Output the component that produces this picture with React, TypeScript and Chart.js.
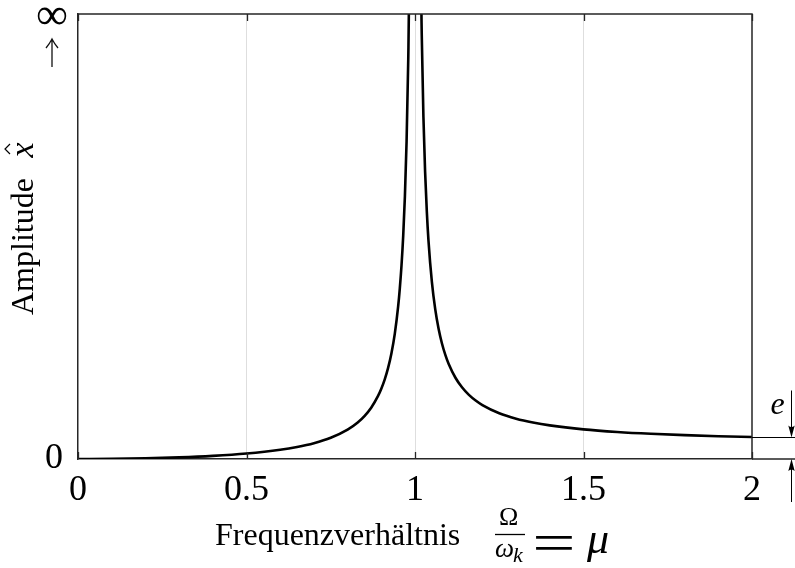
import React, { useEffect, useRef } from 'react';
import { Chart, registerables } from 'chart.js';

Chart.register(...registerables);

// Frequency ratio mu = Omega / omega_k
const MU = [
  0, 0.1, 0.2, 0.3, 0.4, 0.5, 0.6, 0.65, 0.7, 0.75, 0.8, 0.83, 0.85, 0.87, 0.89,
  0.9, 0.91, 0.92, 0.93, 0.94, 0.95, 0.955, 0.96, 0.965, 0.97, 0.975, 0.98, 0.985, 0.99,
  1.01, 1.015, 1.02, 1.025, 1.03, 1.035, 1.04, 1.05, 1.06, 1.07, 1.08, 1.09, 1.1, 1.12,
  1.14, 1.16, 1.18, 1.2, 1.25, 1.3, 1.35, 1.4, 1.5, 1.6, 1.7, 1.8, 1.9, 2.0,
];
// Amplitude x-hat in units of e
const AMPLITUDE = [
  0, 0.0101, 0.0417, 0.0989, 0.1905, 0.3333, 0.5625, 0.7316, 0.9608, 1.2857, 1.7778,
  2.2144, 2.6036, 3.1135, 3.81, 4.2632, 4.8173, 5.5104, 6.4019, 7.5911, 9.2564, 10.367,
  11.755, 13.54, 15.92, 19.253, 24.253, 32.585, 49.25,
  50.75, 34.085, 25.752, 20.753, 17.42, 15.04, 13.255, 10.756, 9.0906, 7.9013, 7.0096,
  6.3164, 5.7619, 4.9308, 4.3378, 3.8935, 3.5484, 3.2727, 2.7778, 2.4493, 2.2158,
  2.0417, 1.8, 1.641, 1.5291, 1.4464, 1.3831, 1.3333,
];
const X_TICKS = [0, 0.5, 1, 1.5, 2];
const X_MIN = 0;
const X_MAX = 2;
const Y_MIN = 0;
const Y_MAX = 27;
const Y_TICK_LABEL = '0';
const INFINITY_LABEL = '∞';
const E_LABEL = 'e';
const X_TITLE = 'Frequenzverhältnis';
const Y_TITLE = 'Amplitude';
const Y_TITLE_VAR = 'x';

const SERIF = '"Liberation Serif", "Times New Roman", serif';
const AXIS = '#262626';
const GRID = '#dedede';

function textCentered(ctx: CanvasRenderingContext2D, text: string, font: string, cx: number, cy: number, sx = 1) {
  ctx.font = font;
  ctx.textAlign = 'left';
  ctx.textBaseline = 'alphabetic';
  const m = ctx.measureText(text);
  const x = -(m.actualBoundingBoxRight - m.actualBoundingBoxLeft) / 2;
  const y = (m.actualBoundingBoxAscent - m.actualBoundingBoxDescent) / 2;
  ctx.save();
  ctx.translate(cx, cy);
  ctx.scale(sx, 1);
  ctx.fillText(text, x, y);
  ctx.restore();
}

function fitSize(ctx: CanvasRenderingContext2D, text: string, style: string, family: string, targetW: number) {
  ctx.font = `${style} 100px ${family}`;
  const m = ctx.measureText(text);
  const w = m.actualBoundingBoxLeft + m.actualBoundingBoxRight;
  return (100 * targetW) / w;
}

function arrowHead(ctx: CanvasRenderingContext2D, x: number, tipY: number, dir: number) {
  const len = 12;
  const hw = 3.2;
  ctx.beginPath();
  ctx.moveTo(x, tipY);
  ctx.lineTo(x - hw, tipY - dir * len);
  ctx.quadraticCurveTo(x, tipY - dir * (len - 3), x + hw, tipY - dir * len);
  ctx.closePath();
  ctx.fill();
}

const annotations = {
  id: 'annotations',
  afterDraw(chart: any) {
    const ctx: CanvasRenderingContext2D = chart.ctx;
    const { left, right, top, bottom } = chart.chartArea;
    const xs = chart.scales.x;
    const ys = chart.scales.y;
    const W = chart.width;
    ctx.save();

    // box (top/right) + bottom extension
    ctx.strokeStyle = AXIS;
    ctx.lineWidth = 1.5;
    ctx.beginPath();
    ctx.moveTo(left, top);
    ctx.lineTo(right, top);
    ctx.lineTo(right, bottom);
    ctx.moveTo(right, bottom);
    ctx.lineTo(W, bottom);
    ctx.stroke();

    // inner ticks on bottom and top
    ctx.lineWidth = 1.3;
    ctx.beginPath();
    X_TICKS.forEach((v) => {
      const px = Math.round(xs.getPixelForValue(v)) + 0.5;
      ctx.moveTo(px, bottom);
      ctx.lineTo(px, bottom - 7);
      ctx.moveTo(px, top);
      ctx.lineTo(px, top + 7);
    });
    ctx.stroke();

    // e marker on the right
    const eVal = AMPLITUDE[AMPLITUDE.length - 1];
    const yE = Math.round(ys.getPixelForValue(eVal)) + 0.5;
    ctx.strokeStyle = '#000';
    ctx.fillStyle = '#000';
    ctx.lineWidth = 1;
    ctx.beginPath();
    ctx.moveTo(right, yE);
    ctx.lineTo(W, yE);
    ctx.stroke();
    const xa = right + 39.5;
    ctx.beginPath();
    ctx.moveTo(xa, yE - 47);
    ctx.lineTo(xa, yE - 8);
    ctx.moveTo(xa, bottom + 8);
    ctx.lineTo(xa, bottom + 43);
    ctx.stroke();
    arrowHead(ctx, xa, yE, 1);
    arrowHead(ctx, xa, bottom, -1);
    textCentered(ctx, E_LABEL, `italic 32px ${SERIF}`, right + 25.5, yE - 31.5);

    // infinity + up arrow on y axis
    const infSize = fitSize(ctx, INFINITY_LABEL, '', SERIF, 29);
    textCentered(ctx, INFINITY_LABEL, `${infSize}px ${SERIF}`, left - 26, top + 2);
    const ax = left - 26;
    ctx.strokeStyle = '#111';
    ctx.lineWidth = 1.3;
    ctx.beginPath();
    ctx.moveTo(ax, top + 53);
    ctx.lineTo(ax, top + 25);
    ctx.moveTo(ax - 6, top + 34);
    ctx.quadraticCurveTo(ax - 2, top + 29, ax, top + 25);
    ctx.quadraticCurveTo(ax + 2, top + 29, ax + 6, top + 34);
    ctx.stroke();

    // y title (rotated)
    const cy = 226;
    ctx.save();
    ctx.translate(33, cy);
    ctx.rotate(-Math.PI / 2);
    ctx.fillStyle = '#000';
    ctx.font = `32px ${SERIF}`;
    ctx.textAlign = 'left';
    ctx.textBaseline = 'alphabetic';
    ctx.fillText(Y_TITLE, -(315 - cy), 0);
    const xc = cy - 150;
    ctx.font = `italic 34px ${SERIF}`;
    const mx = ctx.measureText(Y_TITLE_VAR);
    ctx.fillText(Y_TITLE_VAR, xc - mx.width / 2, 0);
    ctx.strokeStyle = '#000';
    ctx.lineWidth = 1.2;
    ctx.beginPath();
    ctx.moveTo(xc - 4, -23);
    ctx.lineTo(xc + 1, -28);
    ctx.lineTo(xc + 6, -23);
    ctx.stroke();
    ctx.restore();

    // x title
    ctx.fillStyle = '#000';
    ctx.font = `32px ${SERIF}`;
    ctx.textAlign = 'left';
    ctx.textBaseline = 'alphabetic';
    ctx.fillText(X_TITLE, 215, 545);
    textCentered(ctx, 'Ω', `26px ${SERIF}`, 508.5, 516);
    ctx.strokeStyle = '#000';
    ctx.lineWidth = 1.3;
    ctx.beginPath();
    ctx.moveTo(495, 534.5);
    ctx.lineTo(525, 534.5);
    ctx.stroke();
    textCentered(ctx, 'ω', `italic 27px ${SERIF}`, 504, 549.5);
    textCentered(ctx, 'k', `italic 22px ${SERIF}`, 518.5, 555);
    ctx.font = `54px ${SERIF}`;
    const eqM = ctx.measureText('=');
    const eqW = eqM.actualBoundingBoxLeft + eqM.actualBoundingBoxRight;
    textCentered(ctx, '=', `54px ${SERIF}`, 553.5, 542.5, 37 / eqW);
    textCentered(ctx, 'μ', `italic 44px ${SERIF}`, 597, 547.5);

    ctx.restore();
  },
};

export default function App() {
  const ref = useRef<HTMLCanvasElement>(null);
  useEffect(() => {
    if (!ref.current) return;
    const chart = new Chart(ref.current, {
      type: 'line',
      data: {
        datasets: [
          {
            data: MU.map((m, i) => ({ x: m, y: AMPLITUDE[i] })),
            borderColor: '#000',
            borderWidth: 2.6,
            pointRadius: 0,
            fill: false,
            cubicInterpolationMode: 'monotone',
          },
        ],
      },
      options: {
        responsive: false,
        animation: false,
        devicePixelRatio: 1,
        layout: { padding: { top: 14, right: 43, left: 0, bottom: 0 } },
        plugins: { legend: { display: false }, tooltip: { enabled: false } },
        scales: {
          x: {
            type: 'linear',
            min: X_MIN,
            max: X_MAX,
            afterFit: (s: any) => {
              s.height = 109;
              s.paddingLeft = 0;
              s.paddingRight = 0;
            },
            afterBuildTicks: (s: any) => {
              s.ticks = X_TICKS.map((v) => ({ value: v }));
            },
            ticks: {
              font: { family: SERIF, size: 36 },
              color: '#000',
              padding: 10,
              maxRotation: 0,
              autoSkip: false,
              callback: (v: any) => String(v),
            },
            grid: {
              display: true,
              drawTicks: false,
              lineWidth: 1,
              color: (c: any) => (c.tick && c.tick.value > X_MIN && c.tick.value < X_MAX ? GRID : 'rgba(0,0,0,0)'),
            },
            border: { display: true, color: AXIS, width: 1.5 },
          },
          y: {
            type: 'linear',
            min: Y_MIN,
            max: Y_MAX,
            afterFit: (s: any) => {
              s.width = 78;
              s.paddingTop = 0;
              s.paddingBottom = 0;
            },
            afterBuildTicks: (s: any) => {
              s.ticks = [{ value: 0 }];
            },
            ticks: {
              font: { family: SERIF, size: 36 },
              color: '#000',
              padding: 15,
              callback: (v: any) => (v === 0 ? Y_TICK_LABEL : ''),
            },
            grid: { display: false, drawTicks: false },
            border: { display: true, color: AXIS, width: 1.5 },
          },
        },
      },
      plugins: [annotations],
    } as any);
    return () => chart.destroy();
  }, []);
  return (
    <div style={{ position: 'absolute', left: 0, top: 0, width: 795, height: 568, background: '#fff' }}>
      <canvas ref={ref} width={795} height={568} style={{ display: 'block' }} />
    </div>
  );
}
